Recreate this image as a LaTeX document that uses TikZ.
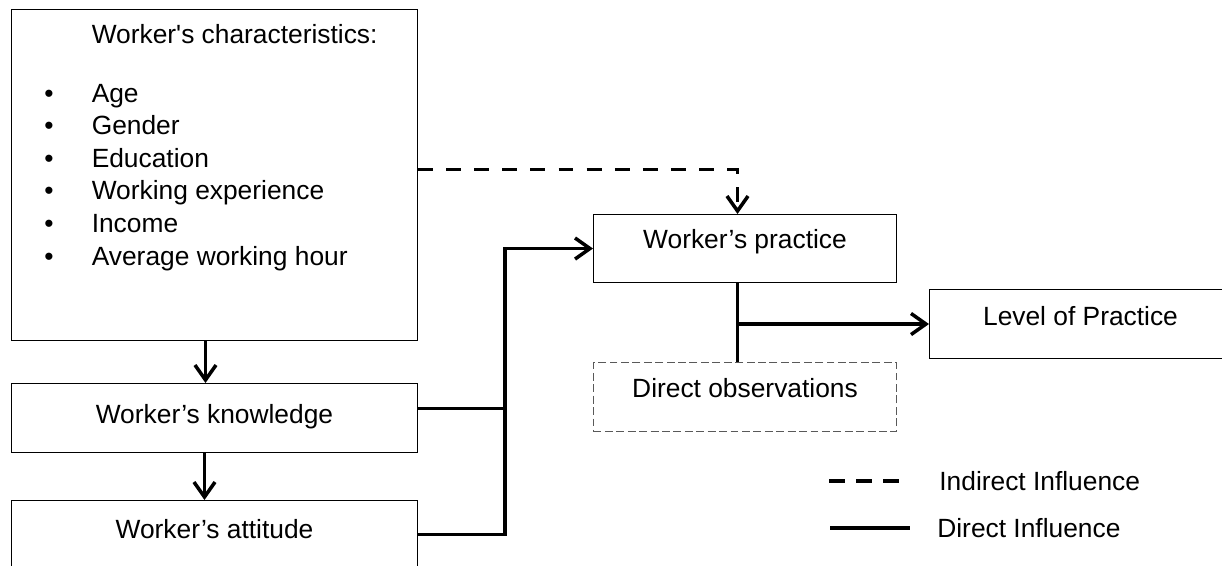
\documentclass[tikz,border=0pt]{standalone}
\usepackage{fontspec}
\setmainfont{Liberation Sans}[Ligatures=TeXOff]
\usetikzlibrary{arrows.meta,positioning}

\tikzset{
  box/.style={draw, line width=0.6pt, inner sep=0pt, anchor=north west,
    font=\fontsize{15}{18.5}\selectfont, text height=10pt, text depth=10pt},
  obsbox/.style={box, draw=black!65, dashed, dash pattern=on 4.5pt off 2pt},
  direct/.style={line width=2pt},
  indirect/.style={line width=2pt, dash pattern=on 8.5pt off 7.5pt},
  tip/.style={-{Straight Barb[length=8.5pt,width=12pt]}},
  legendtext/.style={anchor=west, inner sep=0pt, font=\fontsize{15}{18.5}\selectfont}
}

\begin{document}
\begin{tikzpicture}[x=0.02cm, y=-0.02cm]
  \useasboundingbox (0,0) rectangle (1222,565);

  % boxes on the left
  \node[box, minimum width=8.12cm, minimum height=6.62cm] (chars) at (11,9) {};
  \node[anchor=north west, inner sep=0pt, align=left,
        font=\fontsize{15}{18.5}\selectfont] (charslist) at (44,24) {%
    \hspace*{27pt}Worker's characteristics:\\[15.1pt]
    \makebox[27pt][l]{\textbullet}Age\\
    \makebox[27pt][l]{\textbullet}Gender\\
    \makebox[27pt][l]{\textbullet}Education\\
    \makebox[27pt][l]{\textbullet}Working experience\\
    \makebox[27pt][l]{\textbullet}Income\\
    \makebox[27pt][l]{\textbullet}Average working hour};
  \node[box, minimum width=8.12cm, minimum height=1.38cm, text depth=3.7pt]
    (know) at (11,383) {Worker’s knowledge};
  \node[box, minimum width=8.12cm, minimum height=1.52cm]
    (att) at (11,500) {Worker’s attitude};

  % boxes on the right
  \node[box, minimum width=6.06cm, minimum height=1.36cm]
    (prac) at (593,214) {Worker’s practice};
  \node[obsbox, minimum width=6.06cm, minimum height=1.38cm, text depth=9.4pt]
    (obs) at (593,362) {Direct observations};
  \node[box, minimum width=6.04cm, minimum height=1.38cm, text depth=8.3pt]
    (lvl) at (929,289) {Level of Practice};

  % influences
  \draw[direct, tip] ([xshift=-0.18cm]chars.south) -- ([xshift=-0.18cm]know.north);
  \draw[direct, tip] ([xshift=-0.2cm]know.south) -- ([xshift=-0.2cm]att.north);

  \coordinate (cout) at ([yshift=0.11cm]chars.east);
  \coordinate (pin) at ([xshift=-0.15cm]prac.north);
  \draw[indirect, tip] (cout) -| (pin);

  \coordinate (bus) at ([xshift=-1.76cm]prac.west);
  \coordinate (kout) at ([yshift=0.19cm]know.east);
  \coordinate (aout) at ([yshift=0.08cm]att.east);
  \draw[direct] (kout) -- (kout -| bus);
  \draw[direct, tip] (aout) -| (bus) -- (prac.west);

  \coordinate (pout) at ([xshift=-0.15cm]prac.south);
  \draw[direct] (pout) -- (pout |- obs.north);
  \draw[direct, tip] (pout |- lvl.west) -- (lvl.west);

  % legend
  \coordinate (ind) at (829,481);
  \coordinate (dir) at (830,528);
  \draw[indirect, dash pattern=on 9pt off 6.5pt] (ind) -- ++(72,0);
  \draw[direct] (dir) -- ++(80,0);
  \node[legendtext] (indtext) at (939,481) {Indirect Influence};
  \node[legendtext] (dirtext) at (937,528) {Direct Influence};
\end{tikzpicture}
\end{document}
